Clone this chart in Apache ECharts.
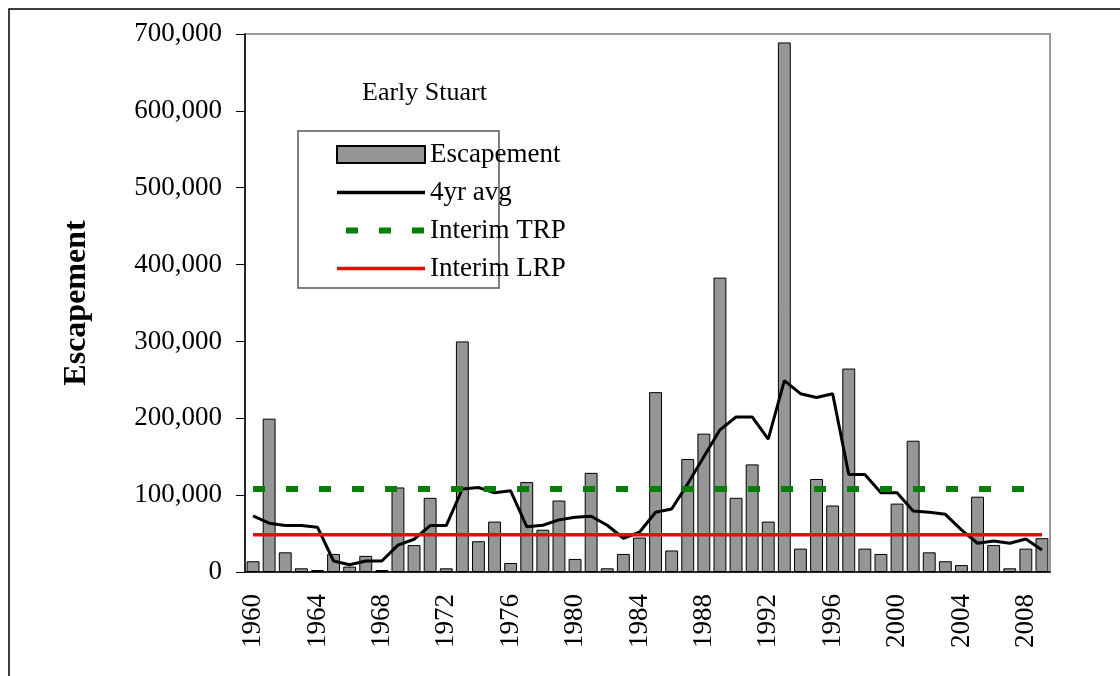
<!DOCTYPE html>
<html>
<head>
<meta charset="utf-8">
<script src="https://cdn.jsdelivr.net/npm/echarts@6/dist/echarts.min.js"></script>
<style>
  html, body { margin: 0; padding: 0; background: #fff; }
  #chart { width: 1120px; height: 676px; }
</style>
</head>
<body>
<div id="chart"></div>
<script>
// data
const years = ['1960', '1961', '1962', '1963', '1964', '1965', '1966', '1967', '1968', '1969',
  '1970', '1971', '1972', '1973', '1974', '1975', '1976', '1977', '1978', '1979',
  '1980', '1981', '1982', '1983', '1984', '1985', '1986', '1987', '1988', '1989',
  '1990', '1991', '1992', '1993', '1994', '1995', '1996', '1997', '1998', '1999',
  '2000', '2001', '2002', '2003', '2004', '2005', '2006', '2007', '2008', '2009'];
const escapement = [14000, 199500, 25600, 4800, 2600, 23500, 7000, 21000, 2600, 110000,
  35000, 96500, 4800, 300000, 40000, 65600, 11700, 117000, 55000, 93000,
  17000, 129000, 4800, 23500, 44800, 234000, 28000, 147000, 180000, 383000,
  96500, 140000, 65600, 689000, 30400, 121000, 86500, 264700, 30400, 23500,
  89000, 170800, 25600, 14000, 9000, 98000, 35000, 4800, 30400, 44000];
const avg4yr = [73000, 63500, 60400, 60400, 58300, 14300, 9500, 14300, 14300, 35000,
  42600, 60400, 60400, 108000, 110000, 103000, 105600, 59000, 60800, 67800,
  71300, 72600, 60800, 43900, 51700, 77800, 82000, 114700, 150000, 185000,
  201700, 201700, 173000, 249000, 232000, 227000, 232000, 127000, 127000, 103000,
  103000, 79500, 77800, 75000, 54800, 37400, 40400, 37400, 43000, 28700];
const interimTRP = 108000;
const interimLRP = 48600;

const font = 'Liberation Serif';
const chart = echarts.init(document.getElementById('chart'));
const option = {
  backgroundColor: '#fff',
  animation: false,
  title: {
    text: 'Early Stuart',
    left: 357,
    top: 75,
    textStyle: { fontFamily: font, fontSize: 26, fontWeight: 'normal', color: '#000' }
  },
  legend: {
    orient: 'vertical',
    left: 334,
    top: 141,
    padding: 0,
    itemWidth: 88,
    itemHeight: 17,
    itemGap: 11,
    itemTextGap: 5,
    textStyle: { fontFamily: font, fontSize: 27, color: '#000' },
    data: [
      { name: 'Escapement', icon: 'rect' },
      { name: '4yr avg', itemStyle: { opacity: 0 },
        lineStyle: { color: '#000', width: 3.5 } },
      { name: 'Interim TRP', itemStyle: { opacity: 0 },
        lineStyle: { color: '#008000', width: 6, type: [12, 21], dashOffset: -9 } },
      { name: 'Interim LRP', itemStyle: { opacity: 0 },
        lineStyle: { color: '#ff0000', width: 3.5 } }
    ]
  },
  graphic: [
    // outer frame and legend box
    { type: 'rect', shape: { x: 9, y: 9, width: 1200, height: 800 },
      style: { fill: 'none', stroke: '#000', lineWidth: 1.5 } },
    { type: 'rect', shape: { x: 298, y: 131, width: 201, height: 157 },
      style: { fill: 'none', stroke: '#555', lineWidth: 1.5 } }
  ],
  grid: {
    left: 245, right: 70, top: 34, bottom: 104,
    show: true, borderColor: '#999', borderWidth: 2
  },
  xAxis: {
    type: 'category',
    data: years,
    boundaryGap: true,
    axisLine: { lineStyle: { color: '#000', width: 1.5 } },
    axisTick: { interval: 0, length: 8, lineStyle: { color: '#000' } },
    axisLabel: {
      interval: 3, rotate: 90, margin: 22,
      fontFamily: font, fontSize: 27, color: '#000'
    }
  },
  yAxis: {
    type: 'value',
    min: 0, max: 700000, interval: 100000,
    name: 'Escapement',
    nameLocation: 'middle',
    nameRotate: 90,
    nameGap: 152,
    nameTextStyle: { fontFamily: font, fontSize: 32, fontWeight: 'bold', color: '#000' },
    axisLine: { show: true, lineStyle: { color: '#000', width: 1.5 } },
    axisTick: { show: true, length: 9, lineStyle: { color: '#000' } },
    splitLine: { show: false },
    axisLabel: {
      margin: 23,
      fontFamily: font, fontSize: 27, color: '#000',
      formatter: v => v.toLocaleString('en-US')
    }
  },
  series: [
    {
      name: 'Escapement',
      type: 'bar',
      data: escapement,
      barWidth: '80%',
      itemStyle: { color: '#969696', borderColor: '#000', borderWidth: 1 }
    },
    {
      name: '4yr avg',
      type: 'line',
      data: avg4yr,
      symbol: 'none',
      lineStyle: { color: '#000', width: 3 },
      itemStyle: { color: '#000' }
    },
    {
      name: 'Interim TRP',
      type: 'line',
      data: years.map(() => interimTRP),
      symbol: 'none',
      lineStyle: { color: '#008000', width: 6, type: [12, 21] },
      itemStyle: { color: '#008000' }
    },
    {
      name: 'Interim LRP',
      type: 'line',
      data: years.map(() => interimLRP),
      symbol: 'none',
      lineStyle: { color: '#ff0000', width: 3.5 },
      itemStyle: { color: '#ff0000' }
    }
  ]
};
chart.setOption(option);
</script>
</body>
</html>
